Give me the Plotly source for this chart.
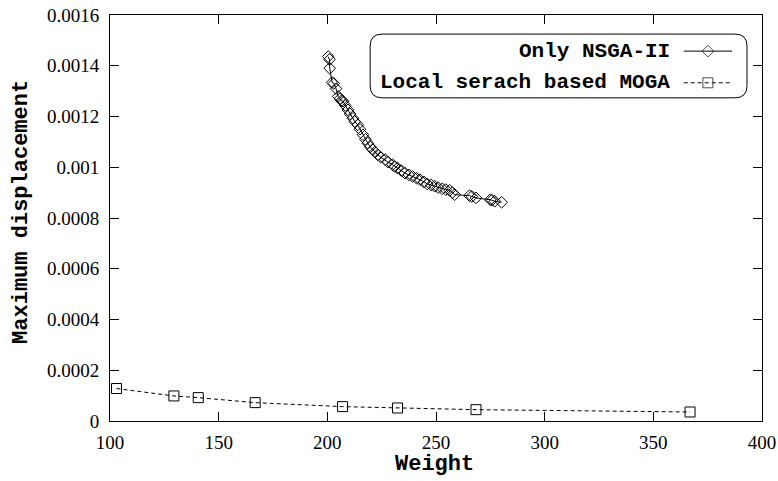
import plotly.graph_objects as go

# Only NSGA-II (weight, max displacement)
nsga_w = [200.4, 201.0, 201.1, 202.2, 203.0, 204.0, 205.0, 205.8, 206.5, 207.2, 208.3, 209.5,
          210.5, 211.8, 212.6, 214.0, 215.0, 216.4, 217.5, 218.6, 219.8, 220.9, 222.0, 223.2,
          224.5, 226.6, 228.0, 230.0, 231.0, 232.3, 234.0, 235.7, 237.5, 239.2, 241.0, 242.6,
          244.5, 246.0, 247.8, 249.4, 251.0, 252.9, 254.5, 256.3, 257.5, 258.6, 265.4, 266.5,
          268.4, 275.0, 275.7, 277.0, 280.2]
nsga_d = [0.001436, 0.001425, 0.00139, 0.001334, 0.00133, 0.00131, 0.001279, 0.00127, 0.001262,
          0.00126, 0.001243, 0.001226, 0.00121, 0.001193, 0.00118, 0.001167, 0.00115, 0.001128,
          0.00111, 0.001095, 0.00108, 0.001069, 0.00106, 0.001049, 0.00104, 0.00103, 0.00102,
          0.00101, 0.001003, 0.000997, 0.000987, 0.000977, 0.00097, 0.000964, 0.000957, 0.000951,
          0.000942, 0.000934, 0.00093, 0.000925, 0.00092, 0.000915, 0.000912, 0.000909, 0.0009,
          0.000892, 0.000888, 0.000885, 0.000879, 0.000872, 0.00087, 0.000866, 0.000862]

# Local search based MOGA
moga_w = [103.0, 129.4, 140.6, 166.8, 207.0, 232.3, 268.4, 366.9]
moga_d = [0.000128, 0.0000987, 0.0000921, 0.0000724, 0.0000566, 0.0000513, 0.0000447, 0.0000355]

x_ticks = [100, 150, 200, 250, 300, 350, 400]
y_ticks = [0, 0.0002, 0.0004, 0.0006, 0.0008, 0.001, 0.0012, 0.0014, 0.0016]
y_tick_text = ["0", "0.0002", "0.0004", "0.0006", "0.0008", "0.001", "0.0012", "0.0014", "0.0016"]

legend_names = ["Only NSGA-II", "Local serach based MOGA"]
x_title = "Weight"
y_title = "Maximum displacement"

fig = go.Figure()
fig.add_trace(go.Scatter(
    x=nsga_w, y=nsga_d, mode="lines+markers", name=legend_names[0],
    line=dict(color="black", width=1),
    marker=dict(symbol="diamond-open", size=9, color="black", line=dict(width=1)),
    showlegend=False))
fig.add_trace(go.Scatter(
    x=moga_w, y=moga_d, mode="lines+markers", name=legend_names[1],
    line=dict(color="black", width=1, dash="4px,3px"),
    marker=dict(symbol="square-open", size=10, color="black", line=dict(width=1)),
    showlegend=False))

# custom legend (gnuplot-style: text, then sample on the right) on an overlay unit axis
leg_rows_y = [0.911, 0.833]
sample_x = [0.880, 0.917, 0.954]
fig.add_trace(go.Scatter(
    x=sample_x, y=[leg_rows_y[0]] * 3, xaxis="x2", yaxis="y2", mode="lines+markers",
    line=dict(color="black", width=1),
    marker=dict(symbol="diamond-open", size=[0, 9, 0], color="black", line=dict(width=1)),
    showlegend=False, hoverinfo="skip"))
fig.add_trace(go.Scatter(
    x=sample_x, y=[leg_rows_y[1]] * 3, xaxis="x2", yaxis="y2", mode="lines+markers",
    line=dict(color="black", width=1, dash="4px,3px"),
    marker=dict(symbol="square-open", size=[0, 10, 0], color="black", line=dict(width=1)),
    showlegend=False, hoverinfo="skip"))

mono = "Liberation Mono"
for name, yy in zip(legend_names, leg_rows_y):
    fig.add_annotation(x=0.862, y=yy, xref="x2", yref="y2", text="<b>%s</b>" % name,
                       showarrow=False, xanchor="right", yanchor="middle",
                       font=dict(family=mono, size=21, color="black"))

# rounded legend box
x0, x1, y0, y1 = 0.399, 0.977, 0.796, 0.953
rx, ry = 0.0184, 0.0296
path = (f"M {x0+rx},{y0} L {x1-rx},{y0} Q {x1},{y0} {x1},{y0+ry} "
        f"L {x1},{y1-ry} Q {x1},{y1} {x1-rx},{y1} L {x0+rx},{y1} "
        f"Q {x0},{y1} {x0},{y1-ry} L {x0},{y0+ry} Q {x0},{y0} {x0+rx},{y0} Z")
fig.add_shape(type="path", path=path, xref="x2", yref="y2",
              line=dict(color="black", width=1), fillcolor="rgba(0,0,0,0)")

# axis titles
fig.add_annotation(x=0.498, y=-0.072, xref="paper", yref="paper", text="<b>%s</b>" % x_title,
                   showarrow=False, xanchor="center", yanchor="top",
                   font=dict(family=mono, size=22, color="black"))
fig.add_annotation(x=-0.135, y=0.515, xref="paper", yref="paper", text="<b>%s</b>" % y_title,
                   showarrow=False, xanchor="center", yanchor="middle", textangle=-90,
                   font=dict(family=mono, size=22, color="black"))

axis_common = dict(showline=True, linecolor="black", linewidth=1, mirror="ticks",
                   ticks="inside", ticklen=9, tickcolor="black", tickwidth=1,
                   showgrid=False, zeroline=False, automargin=False,
                   ticklabeloverflow="allow",
                   tickfont=dict(family="Liberation Serif", size=19, color="black"))

fig.update_layout(
    width=778, height=481,
    margin=dict(l=110, r=16, t=15, b=60),
    paper_bgcolor="white", plot_bgcolor="white",
    xaxis=dict(range=[100, 400], tickvals=x_ticks, ticklabelstandoff=4, **axis_common),
    yaxis=dict(range=[0, 0.0016], tickvals=y_ticks, ticktext=y_tick_text,
               ticklabelstandoff=6, **axis_common),
    xaxis2=dict(overlaying="x", range=[0, 1], visible=False, fixedrange=True),
    yaxis2=dict(overlaying="y", range=[0, 1], visible=False, fixedrange=True),
)

fig.write_html("out.html", config={"displayModeBar": False},
               post_script="document.body.style.margin='0';")
